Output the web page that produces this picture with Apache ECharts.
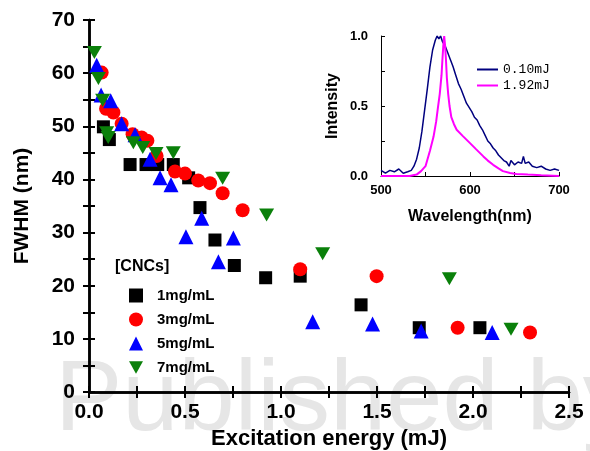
<!DOCTYPE html>
<html>
<head>
<meta charset="utf-8">
<script src="https://cdn.jsdelivr.net/npm/echarts@6/dist/echarts.min.js"></script>
<style>
  html, body { margin: 0; padding: 0; background: #fff; }
  #chart { width: 590px; height: 451px; }
</style>
</head>
<body>
<div id="chart"></div>
<script>
// FWHM vs excitation energy, one array of [mJ, nm] per concentration
const cnc1 = [[0.075, 49.9], [0.106, 47.5], [0.214, 42.8], [0.297, 42.8], [0.358, 42.8], [0.439, 42.8],
  [0.519, 40.3], [0.578, 34.7], [0.656, 28.6], [0.757, 23.8], [0.92, 21.5], [1.10, 21.8],
  [1.417, 16.4], [1.72, 12.1], [2.036, 12.1]];
const cnc3 = [[0.066, 60.1], [0.089, 53.3], [0.127, 52.6], [0.17, 50.5], [0.227, 48.5], [0.274, 47.9],
  [0.304, 47.3], [0.352, 44.4], [0.448, 41.5], [0.5, 41.1], [0.569, 39.8], [0.63, 39.3],
  [0.696, 37.4], [0.80, 34.2], [1.10, 23.1], [1.498, 21.8], [1.92, 12.1], [2.297, 11.2]];
const cnc5 = [[0.04, 61.5], [0.063, 55.9], [0.113, 54.8], [0.17, 50.5], [0.24, 48.4], [0.318, 43.8],
  [0.37, 40.3], [0.427, 39.0], [0.505, 29.2], [0.587, 32.7], [0.674, 24.5], [0.752, 29.0],
  [1.165, 13.2], [1.477, 12.8], [1.73, 11.5], [2.10, 11.2]];
const cnc7 = [[0.028, 63.9], [0.049, 59.0], [0.071, 54.9], [0.092, 48.8], [0.10, 47.9], [0.231, 46.9],
  [0.28, 46.0], [0.349, 44.9], [0.439, 45.0], [0.696, 40.2], [0.925, 33.3], [1.217, 26.0],
  [1.877, 21.3], [2.198, 11.8]];
const seriesNames = ['1mg/mL', '3mg/mL', '5mg/mL', '7mg/mL'];

// inset spectra
const wl010 = [500, 505, 510, 515, 520, 525, 530, 534, 537, 540, 543, 546, 549, 552, 555, 558, 561, 563,
  565, 567, 569, 572, 575, 578, 581, 584, 587, 590, 593, 596, 599, 602, 605, 608, 611, 614, 617, 620,
  623, 626, 629, 632, 635, 638, 641, 644, 646, 650, 654, 658, 660, 662, 666, 670, 675, 680, 685, 690, 695, 700];
const int010 = [0.04, 0.02, 0.04, 0.03, 0.05, 0.02, 0.03, 0.04, 0.07, 0.12, 0.2, 0.32, 0.47, 0.62, 0.78, 0.9, 0.97, 1.0,
  0.98, 1.0, 0.96, 0.93, 0.88, 0.83, 0.78, 0.72, 0.66, 0.62, 0.57, 0.52, 0.49, 0.46, 0.42, 0.4, 0.36, 0.33, 0.29, 0.25,
  0.23, 0.2, 0.18, 0.15, 0.13, 0.11, 0.1, 0.07, 0.11, 0.08, 0.1, 0.09, 0.14, 0.09, 0.1, 0.07, 0.06, 0.07, 0.05, 0.04, 0.05, 0.04];
const wl192 = [500, 520, 532, 540, 545, 550, 555, 559, 562, 564, 566, 568, 569, 570, 571, 572, 573, 574, 575.5,
  577, 579, 582, 585, 592, 600, 607, 615, 620, 626, 632, 637, 645, 652, 665, 680, 700];
const int192 = [0.0, 0.0, 0.0, 0.01, 0.035, 0.07, 0.18, 0.28, 0.39, 0.49, 0.585, 0.72, 0.83, 0.93, 1.0, 0.93, 0.83, 0.7, 0.585,
  0.5, 0.42, 0.37, 0.33, 0.285, 0.235, 0.19, 0.14, 0.11, 0.08, 0.055, 0.035, 0.022, 0.015, 0.01, 0.005, 0.0];

const xTicks = [0, 0.5, 1.0, 1.5, 2.0, 2.5];
const yTicks = [0, 10, 20, 30, 40, 50, 60, 70];

const chart = echarts.init(document.getElementById('chart'));
const FONT = 'Liberation Sans';
const downTri = 'path://M0,0 L10,0 L5,9 Z';

function pairs(xs, ys) {
  return xs.map((x, i) => [x, ys[i]]);
}
function hide() {
  return { show: false };
}

const option = {
  animation: false,
  backgroundColor: '#fff',
  textStyle: { fontFamily: FONT },
  graphic: [
    {
      type: 'text', left: 55, top: 352, z: -10, silent: true,
      style: { text: 'Published by', font: '101px "Liberation Sans"', fill: '#e6e6e6' }
    },
    {
      type: 'text', left: 115, top: 259,
      style: { text: '[CNCs]', font: 'bold 16px "Liberation Sans"', fill: '#000' }
    }
  ],
  grid: [
    { left: 89, top: 20, right: 21, bottom: 59, outerBoundsMode: 'none' },
    { left: 381, top: 36, width: 178, height: 140, outerBoundsMode: 'none' }
  ],
  legend: [
    {
      orient: 'vertical', left: 129, top: 288, padding: 0, itemGap: 9, itemWidth: 14, itemHeight: 14,
      textStyle: { fontSize: 15, fontWeight: 'bold', color: '#000', padding: [0, 0, 0, 9] },
      data: [
        { name: '1mg/mL', icon: 'rect' },
        { name: '3mg/mL', icon: 'circle' },
        { name: '5mg/mL', icon: 'triangle' },
        { name: '7mg/mL', icon: downTri }
      ]
    },
    {
      orient: 'vertical', left: 477, top: 63, padding: 0, itemGap: 3, itemWidth: 21, itemHeight: 2,
      icon: 'rect',
      textStyle: { fontSize: 13, fontFamily: 'Liberation Mono', color: '#000' },
      data: ['0.10mJ', '1.92mJ']
    }
  ],
  xAxis: [
    {
      type: 'value', gridIndex: 0, min: 0, max: 2.5, interval: 0.25,
      name: 'Excitation energy (mJ)', nameLocation: 'middle', nameGap: 34,
      nameTextStyle: { fontSize: 22, fontWeight: 'bold', color: '#000' },
      axisLine: { lineStyle: { color: '#000', width: 2.5 } },
      axisTick: { inside: true, length: 6, lineStyle: { width: 2, color: '#000' } },
      axisLabel: {
        fontSize: 21, fontWeight: 'bold', color: '#000', margin: 10,
        formatter: v => xTicks.some(t => Math.abs(t - v) < 1e-6) ? v.toFixed(1) : ''
      },
      splitLine: hide()
    },
    {
      type: 'value', gridIndex: 0, position: 'top', min: 0, max: 2.5, interval: 0.25,
      axisLine: { lineStyle: { color: '#000', width: 2.5 } },
      axisTick: { inside: true, length: 6, lineStyle: { width: 2, color: '#000' } },
      axisLabel: hide(), splitLine: hide()
    },
    {
      type: 'value', gridIndex: 1, min: 500, max: 700, interval: 50,
      name: 'Wavelength(nm)', nameLocation: 'middle', nameGap: 33,
      nameTextStyle: { fontSize: 16, fontWeight: 'bold', color: '#000' },
      axisLine: { lineStyle: { color: '#000', width: 1 } },
      axisTick: { inside: true, length: 4, lineStyle: { color: '#000' } },
      axisLabel: {
        fontSize: 13, fontWeight: 'bold', color: '#000', margin: 8,
        formatter: v => v % 100 === 0 ? String(v) : ''
      },
      splitLine: hide()
    }
  ],
  yAxis: [
    {
      type: 'value', gridIndex: 0, min: 0, max: 70, interval: 5,
      name: 'FWHM (nm)', nameLocation: 'middle', nameGap: 56,
      nameTextStyle: { fontSize: 21, fontWeight: 'bold', color: '#000' },
      axisLine: { lineStyle: { color: '#000', width: 2.5 } },
      axisTick: { inside: true, length: 6, lineStyle: { width: 2, color: '#000' } },
      axisLabel: {
        fontSize: 21, fontWeight: 'bold', color: '#000', margin: 14,
        formatter: v => yTicks.includes(v) ? String(v) : ''
      },
      splitLine: hide()
    },
    {
      type: 'value', gridIndex: 0, position: 'right', min: 0, max: 70, interval: 5,
      axisLine: { show: true, lineStyle: { color: '#000', width: 2.5 } },
      axisTick: { show: true, inside: true, length: 6, lineStyle: { width: 2, color: '#000' } },
      axisLabel: hide(), splitLine: hide()
    },
    {
      type: 'value', gridIndex: 1, min: 0, max: 1, interval: 0.25,
      name: 'Intensity', nameLocation: 'middle', nameGap: 40,
      nameTextStyle: { fontSize: 16, fontWeight: 'bold', color: '#000' },
      axisLine: { show: true, lineStyle: { color: '#000', width: 1 } },
      axisTick: { show: true, inside: true, length: 4, lineStyle: { color: '#000' } },
      axisLabel: {
        fontSize: 13, fontWeight: 'bold', color: '#000', margin: 13,
        formatter: v => (v * 2) % 1 === 0 ? v.toFixed(1) : ''
      },
      splitLine: hide()
    }
  ],
  series: [
    { name: seriesNames[0], type: 'scatter', xAxisIndex: 0, yAxisIndex: 0, symbol: 'rect', symbolSize: 13,
      itemStyle: { color: '#000', opacity: 1 }, data: cnc1 },
    { name: seriesNames[1], type: 'scatter', xAxisIndex: 0, yAxisIndex: 0, symbol: 'circle', symbolSize: 14,
      itemStyle: { color: '#ff0000', opacity: 1 }, data: cnc3 },
    { name: seriesNames[2], type: 'scatter', xAxisIndex: 0, yAxisIndex: 0, symbol: 'triangle', symbolSize: 15,
      itemStyle: { color: '#0000ff', opacity: 1 }, data: cnc5 },
    { name: seriesNames[3], type: 'scatter', xAxisIndex: 0, yAxisIndex: 0, symbol: downTri, symbolSize: [15, 13],
      itemStyle: { color: '#0a800a', opacity: 1 }, data: cnc7 },
    { name: '0.10mJ', type: 'line', xAxisIndex: 2, yAxisIndex: 2, showSymbol: false, symbol: 'none',
      color: '#00007f', lineStyle: { width: 1.5, color: '#00007f' }, data: pairs(wl010, int010) },
    { name: '1.92mJ', type: 'line', xAxisIndex: 2, yAxisIndex: 2, showSymbol: false, symbol: 'none',
      color: '#ff00ff', lineStyle: { width: 2, color: '#ff00ff' }, data: pairs(wl192, int192) }
  ]
};

chart.setOption(option);
</script>
</body>
</html>
